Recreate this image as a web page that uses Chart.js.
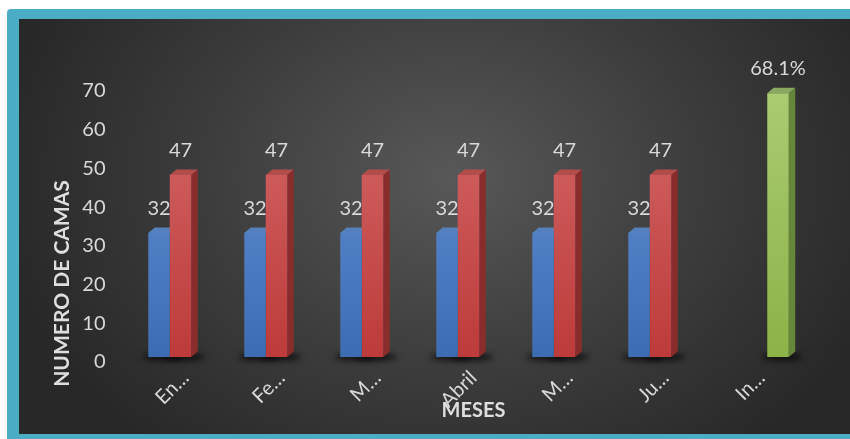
<!DOCTYPE html>
<html lang="es">
<head>
<meta charset="utf-8">
<title>Numero de camas</title>
<script src="https://cdn.jsdelivr.net/npm/chart.js@4"></script>
<style>
    body { margin: 0; background: #ffffff; }
    .frame {
        position: absolute; left: 7px; top: 9px; width: 843px; height: 430px;
        background: #4bacc6; border-top-left-radius: 4px;
    }
    .panel {
        position: absolute; left: 19px; top: 19px; width: 831px; height: 415px;
        background: radial-gradient(ellipse 55% 85% at 52% 38%, #585858 0%, #3c3c3c 55%, #282828 100%);
    }
</style>
</head>
<body>
<div class="frame"></div>
<div class="panel"><canvas id="camasChart"></canvas></div>
<script>
// Datos
const categories = ['En…', 'Fe…', 'M…', 'Abril', 'M…', 'Ju…', 'In…'];
const serieAzul = [32, 32, 32, 32, 32, 32, null];
const serieRoja = [47, 47, 47, 47, 47, 47, null];
const serieVerde = [null, null, null, null, null, null, 68.1];
const yTicks = [0, 10, 20, 30, 40, 50, 60, 70];

const TEXT = '#d9d9d9';
const DX = 6.5, DY = 5.5;   // profundidad 3D

function grad(ctx, area, top, bottom) {
    if (!area) return top;
    const g = ctx.createLinearGradient(0, area.top, 0, area.bottom);
    g.addColorStop(0, top);
    g.addColorStop(1, bottom);
    return g;
}

const styles = [
    { top: '#6794d8', bottom: '#3c6db3', side: '#2e5590', cap: '#5680bd' },
    { top: '#d46a69', bottom: '#bd3b3a', side: '#8a2c2c', cap: '#b24d4c' },
    { top: '#abcc72', bottom: '#8cb248', side: '#66863a', cap: '#8ba862' }
];

// Sombra, lateral y tapa de cada barra
const bar3d = {
    id: 'bar3d',
    beforeDatasetsDraw(chart) {
        const ctx = chart.ctx;
        chart.data.datasets.forEach((ds, i) => {
            const st = styles[i];
            chart.getDatasetMeta(i).data.forEach((el, j) => {
                if (ds.data[j] == null) return;
                const x0 = el.x - el.width / 2, x1 = el.x + el.width / 2;
                const top = el.y, bottom = el.base;
                // sombra
                ctx.save();
                ctx.filter = 'blur(3px)';
                ctx.fillStyle = 'rgba(0,0,0,0.75)';
                ctx.beginPath();
                ctx.ellipse(el.x + 4, bottom, el.width * 0.95, 3.5, 0, 0, Math.PI * 2);
                ctx.fill();
                ctx.restore();
                // lateral
                ctx.fillStyle = st.side;
                ctx.beginPath();
                ctx.moveTo(x1, top);
                ctx.lineTo(x1 + DX, top - DY);
                ctx.lineTo(x1 + DX, bottom - DY);
                ctx.lineTo(x1, bottom);
                ctx.closePath();
                ctx.fill();
                // tapa
                ctx.fillStyle = st.cap;
                ctx.beginPath();
                ctx.moveTo(x0, top);
                ctx.lineTo(x0 + DX, top - DY);
                ctx.lineTo(x1 + DX, top - DY);
                ctx.lineTo(x1, top);
                ctx.closePath();
                ctx.fill();
            });
        });
    },
    afterDatasetsDraw(chart) {
        const ctx = chart.ctx;
        ctx.save();
        ctx.font = '20px Lato';
        ctx.fillStyle = TEXT;
        ctx.textAlign = 'center';
        ctx.textBaseline = 'middle';
        chart.data.datasets.forEach((ds, i) => {
            chart.getDatasetMeta(i).data.forEach((el, j) => {
                const v = ds.data[j];
                if (v == null) return;
                const txt = i === 2 ? v.toFixed(1) + '%' : String(v);
                ctx.fillText(txt, el.x, el.y - 24.5);
            });
        });
        // títulos de ejes
        const a = chart.chartArea;
        ctx.font = 'bold 20px Lato';
        ctx.fillStyle = '#dedede';
        ctx.fillText('MESES', (a.left + a.right) / 2 + 5, 392);
        ctx.font = 'bold 21px Lato';
        ctx.translate(43.5, 264.5);
        ctx.rotate(-Math.PI / 2);
        ctx.fillText('NUMERO DE CAMAS', 0, 0);
        ctx.restore();
    }
};

function makeDataset(data, i) {
    return {
        data: data,
        backgroundColor: (c) => grad(c.chart.ctx, c.chart.chartArea, styles[i].top, styles[i].bottom),
        borderWidth: 0,
        categoryPercentage: 0.672,
        barPercentage: 1
    };
}

document.addEventListener('DOMContentLoaded', () => {
    const ctx = document.getElementById('camasChart').getContext('2d');
    new Chart(ctx, {
        type: 'bar',
        data: {
            labels: categories,
            datasets: [makeDataset(serieAzul, 0), makeDataset(serieRoja, 1), makeDataset(serieVerde, 2)]
        },
        options: {
            responsive: true,
            maintainAspectRatio: false,
            animation: false,
            layout: { padding: { left: 0, top: 67, right: 45.5, bottom: 0 } },
            plugins: { legend: { display: false }, tooltip: { enabled: false } },
            scales: {
                x: {
                    grid: { display: false, drawTicks: false },
                    border: { display: false },
                    ticks: {
                        color: TEXT, font: { family: 'Lato', size: 20 },
                        minRotation: 45, maxRotation: 45, autoSkip: false,
                        padding: 9, labelOffset: 5
                    },
                    afterFit: (s) => { s.height = 77; }
                },
                y: {
                    min: 0, max: 70,
                    grid: { display: false, drawTicks: false },
                    border: { display: false },
                    afterBuildTicks: (s) => { s.ticks = yTicks.map(v => ({ value: v })); },
                    ticks: {
                        color: TEXT, font: { family: 'Lato', size: 20 },
                        padding: 27, labelOffset: 5
                    },
                    afterFit: (s) => { s.width = 113.5; }
                }
            }
        },
        plugins: [bar3d]
    });
});
</script>
</body>
</html>
